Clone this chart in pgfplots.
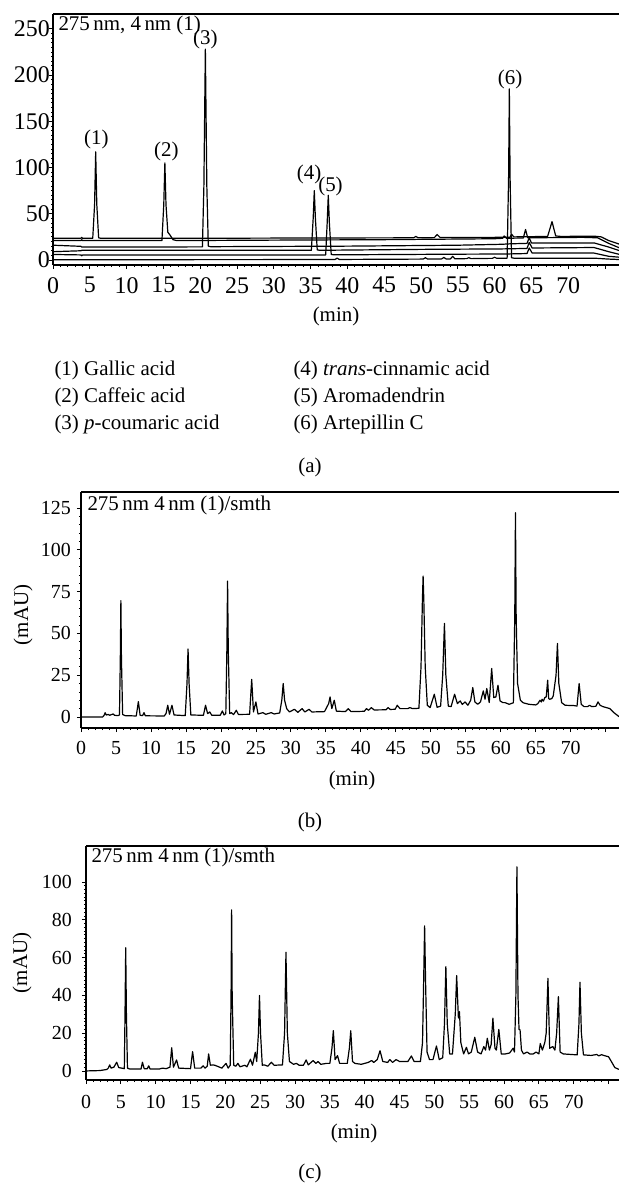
\documentclass[border=0pt]{standalone}
\usepackage{fontspec}
\setmainfont{Liberation Serif}
\usepackage{pgfplots}
\pgfplotsset{compat=1.18}
\pgfplotsset{
  chrom/.style={
    scale only axis,
    axis x line*=bottom, axis y line*=left,
    tick pos=left, tick align=outside,
    major tick length=4bp, minor tick length=2bp,
    axis line style={line width=1.2bp},
    every tick/.style={black, line width=0.8bp},
    no markers,
    cycle list={{black,solid}},
    every axis plot post/.append style={line width=1.2bp, line join=round},
    /pgf/number format/assume math mode=true,
    xtick={0,5,...,75},
    xticklabels={0,5,10,15,20,25,30,35,40,45,50,55,60,65,70,},
    minor x tick num=4,
    xmin=0,
  },
}
\newcommand{\F}{\fontsize{21}{24}\selectfont}
\begin{document}
\begin{tikzpicture}[font=\F]
\path[use as bounding box] (0,0) rectangle (619bp,-1183bp);

% ---------------- (a) standards ----------------
\begin{axis}[chrom, name=pa,
  at={(53bp,-265bp)}, anchor=south west,
  width=566bp, height=251bp,
  xmax=76.9, ymin=-5.4, ymax=266,
  ytick={0,50,...,250}, minor y tick num=9,
  ticklabel style={font=\fontsize{24}{26}\selectfont},
  xticklabel style={anchor=north, inner sep=0pt, yshift=-8bp},
  yticklabel style={anchor=east, inner sep=0pt, xshift=1bp},
]
\addplot coordinates {(0,23.5)(3.8,23.5)(3.9,24.5)(4.0,23.5)(5.4,23.5)(5.65,60)(5.8,117)(5.95,60)(6.2,24)(6.5,23.5)(20,23.5)(35,23.8)(49,24)(49.3,25.5)(49.6,24)(51.8,24.2)(52.2,27.5)(52.6,24.3)(60,24.5)(62.1,24.6)(62.3,28)(62.6,25)(67.2,25.5)(67.8,41.5)(68.3,26)(69,25.5)(73.5,25.8)(74.5,25)(75.5,21)(77,17)};
\addplot coordinates {(0,21)(3.8,21)(3.9,22)(4,21)(14.8,21)(15.05,60)(15.2,105)(15.35,60)(15.6,30)(15.9,27)(16.3,22)(16.8,21)(30,21.5)(45,22)(60,23)(61.1,23.5)(61.3,26)(61.6,23.5)(63.9,23.8)(64.2,33)(64.5,24)(72,24.5)(74,24)(75.5,18)(77,13)};
\addplot coordinates {(0,16)(3.8,14.8)(3.9,14)(20.3,14.2)(20.5,80)(20.7,228)(20.9,80)(21.1,15)(21.4,14.4)(40,15)(55,16)(61,17)(62.1,17.5)(64.4,18)(64.7,24)(65,18.5)(73.5,18.5)(75.5,14)(77,10)};
\addplot coordinates {(0,9)(3.8,10)(3.9,10.5)(35.1,10.5)(35.35,45)(35.5,75)(35.65,45)(35.9,11)(36.2,10.5)(50,11.5)(61,12)(64.4,12.5)(64.7,19)(65.1,13)(73.5,13.5)(75.5,9)(77,6)};
\addplot coordinates {(0,6)(3.8,5.5)(3.9,4.5)(4,5.4)(37.05,5.5)(37.25,40)(37.4,70)(37.55,40)(37.8,6)(38.2,5.6)(55,6.3)(61.5,6.5)(64.4,7)(64.7,13)(65.1,7.5)(73.5,7.5)(75.5,4)(77,3)};
\addplot coordinates {(0,0.2)(3.8,0.3)(38.3,0.5)(38.6,2)(38.9,0.6)(50.3,1)(50.6,2.5)(50.9,1)(52.8,1.2)(53.1,2.8)(53.4,1.2)(54,1.2)(54.3,4)(54.6,1.3)(56.2,1.5)(56.5,2.5)(56.8,1.5)(59.7,1.8)(60,3)(60.3,1.8)(61.7,2)(61.9,90)(62.0,185)(62.1,90)(62.3,2.5)(62.6,2)(73.5,2)(75.5,1)(77,0.5)};
\node at (axis cs:5.9,130) {(1)};
\node at (axis cs:15.4,117) {(2)};
\node at (axis cs:20.7,238) {(3)};
\node at (axis cs:34.8,92) {(4)};
\node at (axis cs:37.7,79) {(5)};
\node at (axis cs:62.1,195) {(6)};
\end{axis}
\draw[line width=1.2bp] (pa.north west) -- (pa.north east);
\node[anchor=west] at (55bp,-25bp) {275\,nm, 4\,nm (1)};
\node at (336bp,-316bp) {(min)};
\node[anchor=west] at (51bp,-370bp) {(1) Gallic acid};
\node[anchor=west] at (51bp,-397bp) {(2) Caffeic acid};
\node[anchor=west] at (51bp,-424bp) {(3) \textit{p}-coumaric acid};
\node[anchor=west] at (290bp,-370bp) {(4) \textit{trans}-cinnamic acid};
\node[anchor=west] at (290bp,-397bp) {(5) Aromadendrin};
\node[anchor=west] at (290bp,-424bp) {(6) Artepillin C};
\node at (310bp,-467bp) {(a)};

% ---------------- (b) ----------------
\begin{axis}[chrom, name=pb,
  at={(81bp,-728bp)}, anchor=south west,
  width=538bp, height=236bp,
  xmax=76.9, ymin=-6.6, ymax=134.6,
  ytick={0,25,...,125}, minor y tick num=4,
  ticklabel style={font=\fontsize{20}{22}\selectfont},
  xticklabel style={anchor=north, inner sep=0pt, yshift=-9bp},
  yticklabel style={anchor=east, inner sep=0pt, xshift=-6bp},
]
\addplot coordinates {(0,0)(3.1,0)(3.3,1)(3.45,2.6)(3.6,1.2)(3.9,1.5)(4.1,1)(4.4,1.5)(4.6,1.8)(4.8,1)(5.3,0.8)(5.5,1.2)(5.62,35)(5.7,69.6)(5.78,35)(5.95,1.5)(6.3,0.8)(7.9,0.6)(8.2,9.2)(8.45,1)(8.8,0.8)(9.0,2.6)(9.2,0.7)(11.9,0.6)(12.15,2)(12.4,7)(12.65,1.6)(13.0,7)(13.3,1.2)(14.9,0.8)(15.15,20)(15.3,40.7)(15.45,20)(15.7,1.2)(17.5,1)(17.8,7)(18.1,2)(18.4,3)(18.7,1)(19.9,1)(20.2,3.6)(20.45,1.2)(20.7,2)(20.85,40)(20.95,81.3)(21.05,40)(21.25,2)(21.5,2.6)(21.8,1.4)(22.2,4)(22.5,1.5)(24.1,1.6)(24.4,22.5)(24.65,3)(25.0,9)(25.3,1.8)(26,2.6)(26.4,1.6)(27.2,2.6)(27.6,1.8)(28.4,2.4)(28.7,10)(28.9,20)(29.1,10)(29.4,5)(29.8,3)(30.5,4.6)(31,2.8)(31.6,5)(32,3)(32.6,4.6)(33,3)(34.8,3.2)(35.4,8)(35.6,12)(35.85,5)(36.2,10)(36.5,3.5)(37.8,3.2)(38.2,5)(38.6,3.2)(40.5,3.4)(40.8,5)(41.1,4)(41.5,5.6)(41.9,4.2)(43.6,4.3)(43.9,5.6)(44.2,4.5)(44.9,4.6)(45.2,7)(45.6,5)(46.7,5)(47,5.6)(47.4,5)(48.3,5.2)(48.6,30)(48.8,70)(48.9,84.3)(49.0,70)(49.2,30)(49.5,7)(49.9,5.6)(50.5,13.6)(50.9,5.8)(51.4,6.5)(51.7,25)(51.95,56)(52.15,25)(52.5,6.5)(52.9,6.2)(53.4,13.6)(53.8,8)(54.2,9.6)(54.5,7.5)(54.9,9)(55.3,7)(55.7,10)(56,17.6)(56.3,9)(56.7,7.6)(57.1,9)(57.5,15.6)(57.75,10.6)(58,17)(58.35,8.6)(58.7,29)(59,11.6)(59.3,12)(59.6,19)(59.9,9.6)(60.3,8.6)(60.6,8.6)(61.2,7.6)(61.8,8.5)(62.0,60)(62.1,122.2)(62.2,60)(62.4,20)(62.5,17.6)(62.8,10)(63.2,8.5)(64,7.6)(65,7.2)(65.3,8)(65.6,10)(65.8,9)(65.9,10.6)(66.1,9.5)(66.3,11.6)(66.5,12)(66.7,22)(66.85,11)(67,10.6)(67.3,11)(67.5,12.6)(67.9,25)(68.1,44)(68.3,20)(68.7,8.6)(69.2,7)(70.5,6.8)(70.9,6.5)(71.2,20)(71.5,7.6)(71.9,6.2)(72.4,6.2)(72.7,7)(73,6.2)(73.6,6.4)(73.9,9)(74.2,7)(74.6,6.2)(75.6,5)(76.2,2.5)(76.9,0.2)};
\end{axis}
\draw[line width=1.2bp] (pb.north west) -- (pb.north east);
\node[anchor=west] at (84bp,-505bp) {275\,nm 4\,nm (1)/smth};
\node[rotate=90] at (23bp,-615bp) {(mAU)};
\node at (352bp,-780bp) {(min)};
\node at (310bp,-822bp) {(b)};

% ---------------- (c) ----------------
\begin{axis}[chrom, name=pc,
  at={(86bp,-1080bp)}, anchor=south west,
  width=533bp, height=234bp,
  xmax=76.5, ymin=-4.8, ymax=119,
  ytick={0,20,...,100}, minor y tick num=9,
  ticklabel style={font=\fontsize{20}{22}\selectfont},
  xticklabel style={anchor=north, inner sep=0pt, yshift=-11bp},
  yticklabel style={anchor=east, inner sep=0pt, xshift=-10bp},
]
\addplot coordinates {(0,0)(2,0.2)(3.0,0.8)(3.2,1.5)(3.4,3.2)(3.6,1.5)(4.0,2)(4.4,4.6)(4.7,1.8)(5.5,1.2)(5.6,30)(5.7,65.2)(5.8,30)(5.95,1.5)(6.3,1)(7.9,1)(8.1,4.6)(8.35,1.2)(8.8,1.2)(9.0,2.7)(9.2,1)(10.5,1)(11,1.5)(11.5,1.2)(12.05,2)(12.3,12.3)(12.55,2)(13.0,5.8)(13.3,1.5)(15.0,1.2)(15.3,10.2)(15.6,1.5)(16.5,1.5)(16.8,2.7)(17.1,1.5)(17.4,2.5)(17.6,9)(17.85,3)(18.2,3.2)(18.5,3)(19.5,1.5)(20.1,4)(20.4,1.5)(20.7,3)(20.82,40)(20.9,85.2)(20.98,40)(21.2,3)(21.5,2.5)(21.8,4)(22.1,2.2)(22.8,3)(23.1,2.2)(23.6,6.2)(23.9,3)(24.3,9.9)(24.5,5)(24.75,20)(24.9,39.9)(25.05,20)(25.3,3)(25.6,3.2)(26.1,2.5)(26.6,4.6)(27,3)(28.2,3.2)(28.5,20)(28.7,62.8)(28.9,20)(29.2,5)(29.8,3.5)(30.2,4)(30.6,3)(31.2,3)(31.6,5.8)(31.9,3.2)(32.6,5.5)(33,4)(33.3,5)(33.7,3.5)(34.5,4)(35,4)(35.3,12)(35.5,21.3)(35.75,6)(36.1,8.1)(36.4,4)(37.5,4)(37.8,12)(38.0,21.3)(38.25,5)(38.6,4)(39.5,3.5)(40.5,4.5)(41,5.5)(41.3,4.5)(41.8,6)(42.2,10.7)(42.6,5)(43.3,4.5)(43.6,6)(44,4.5)(44.5,6)(45,5)(46.2,5)(46.7,7.9)(47.1,5)(48,5)(48.3,15)(48.45,45)(48.6,76.7)(48.75,45)(48.95,10)(49.3,6)(49.8,6)(50.3,13.2)(50.7,6)(51.2,7)(51.45,25)(51.65,55.2)(51.85,25)(52.2,9)(52.6,9)(53.0,30)(53.2,50.4)(53.45,28)(53.6,31.4)(53.8,15)(54.2,9)(54.6,12.5)(54.9,9)(55.3,10)(55.8,17.8)(56.2,10)(56.7,9)(57.1,12.9)(57.35,11)(57.6,17.3)(57.9,11)(58.15,14)(58.4,27.9)(58.7,12)(58.9,11)(59.25,22)(59.6,9)(60.2,9)(60.8,9.5)(61.3,12)(61.5,10)(61.7,40)(61.85,108)(62.0,40)(62.15,22)(62.3,21.7)(62.5,11)(62.8,9)(63.3,10)(63.7,9)(64.2,9)(64.6,10)(65.0,9)(65.2,14.5)(65.5,11)(65.85,15)(66.05,20)(66.3,49)(66.55,12)(67,12.9)(67.3,11)(67.55,20)(67.8,39.3)(68.05,10)(68.5,9)(70.5,8.5)(70.75,25)(70.9,46.9)(71.1,20)(71.4,8.5)(72.5,8.2)(73.3,8.7)(73.6,8)(74,8.6)(74.5,8)(75,7.5)(75.4,5)(75.9,1.8)(76.5,0.8)};
\end{axis}
\draw[line width=1.2bp] (pc.north west) -- (pc.north east);
\node[anchor=west] at (88bp,-857bp) {275\,nm 4\,nm (1)/smth};
\node[rotate=90] at (22bp,-963bp) {(mAU)};
\node at (354bp,-1133bp) {(min)};
\node at (310bp,-1173bp) {(c)};
\end{tikzpicture}
\end{document}
